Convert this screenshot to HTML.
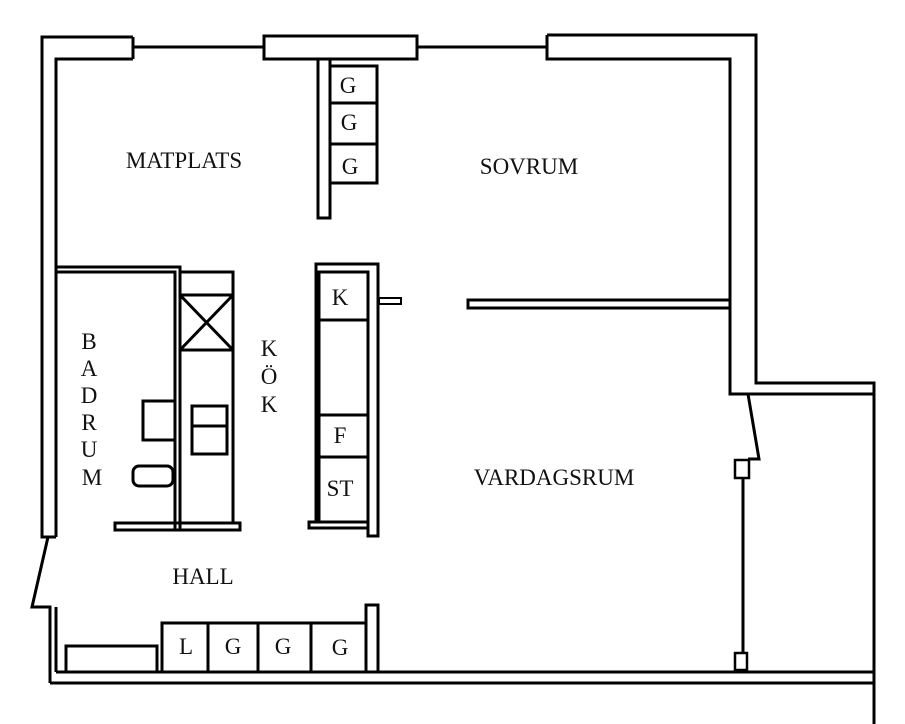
<!DOCTYPE html>
<html><head><meta charset="utf-8"><style>
html,body{margin:0;padding:0;background:#fff;}
svg{display:block;}
text{font-family:"Liberation Serif",serif;font-size:21px;fill:#111;}
text.big{font-size:23px;}
</style></head><body>
<svg width="905" height="724" viewBox="0 0 905 724" xmlns="http://www.w3.org/2000/svg">
<g fill="none" stroke="#000" stroke-width="3" stroke-linejoin="miter">
<polyline points="133,59 56,59 56,537"/>
<polyline points="133,37 42,37 42,537 56,537"/>
<line x1="133" y1="37" x2="133" y2="59"/>
<line x1="133" y1="47" x2="264" y2="47"/>
<rect x="264" y="36" width="153" height="23"/>
<line x1="417" y1="47" x2="547" y2="47"/>
<polyline points="547,35 756,35 756,383 874,383 874,724"/>
<polyline points="547,35 547,59 730,59 730,394 874,394"/>
<polyline points="748,394 759,459 748,459"/>
<rect x="735" y="460" width="14" height="18" stroke-width="2.5"/>
<line x1="743" y1="478" x2="743" y2="653"/>
<rect x="735" y="653" width="12" height="17" stroke-width="2.5"/>
<line x1="56" y1="672" x2="874" y2="672"/>
<line x1="50" y1="683" x2="874" y2="683"/>
<polyline points="48,537 32,607 50,607 50,683"/>
<line x1="56" y1="607" x2="56" y2="672"/>
<rect x="468" y="300" width="262" height="8"/>
<rect x="318" y="59" width="12" height="159"/>
<rect x="330" y="66" width="47" height="117"/>
<line x1="330" y1="103" x2="377" y2="103"/>
<line x1="330" y1="144" x2="377" y2="144"/>
<polyline points="56,267 180,267 180,530"/>
<polyline points="56,272 175,272 175,530"/>
<rect x="180" y="272" width="53" height="251"/>
<rect x="180" y="295" width="53" height="55"/>
<line x1="180" y1="295" x2="233" y2="350"/>
<line x1="233" y1="295" x2="180" y2="350"/>
<rect x="143" y="401" width="32" height="39"/>
<rect x="133" y="466" width="40" height="20" rx="6"/>
<rect x="192" y="406" width="35" height="48"/>
<line x1="192" y1="426" x2="227" y2="426"/>
<rect x="115" y="523" width="125" height="7"/>
<polyline points="316,522 316,264 378,264 378,536 368,536 368,272 319,272 319,522"/>
<line x1="319" y1="320" x2="368" y2="320"/>
<line x1="319" y1="415" x2="368" y2="415"/>
<line x1="319" y1="457" x2="368" y2="457"/>
<rect x="309" y="522" width="59" height="6"/>
<rect x="379" y="298" width="22" height="6" stroke-width="2"/>
<rect x="162" y="623" width="204" height="49"/>
<line x1="208" y1="623" x2="208" y2="672"/>
<line x1="258" y1="623" x2="258" y2="672"/>
<line x1="311" y1="623" x2="311" y2="672"/>
<rect x="366" y="605" width="12" height="67"/>
<rect x="66" y="646" width="91" height="26"/>
</g>
<g text-anchor="middle">
<text class="big" x="348" y="93">G</text>
<text class="big" x="349" y="130">G</text>
<text class="big" x="350" y="174">G</text>
<text class="big" x="184" y="168">MATPLATS</text>
<text class="big" x="529" y="174">SOVRUM</text>
<text class="big" x="554" y="485">VARDAGSRUM</text>
<text class="big" x="203" y="584">HALL</text>
<text class="big" x="340" y="305">K</text>
<text class="big" x="340" y="443">F</text>
<text class="big" x="340" y="496">ST</text>
<text class="big" x="186" y="654">L</text>
<text class="big" x="233" y="654">G</text>
<text class="big" x="283" y="654">G</text>
<text class="big" x="340" y="655">G</text>
<text class="big" x="89" y="349">B</text>
<text class="big" x="89" y="376">A</text>
<text class="big" x="89" y="403">D</text>
<text class="big" x="89" y="430">R</text>
<text class="big" x="89" y="457">U</text>
<text class="big" x="92" y="485">M</text>
<text class="big" x="269" y="356">K</text>
<text class="big" x="269" y="384">Ö</text>
<text class="big" x="269" y="412">K</text>
</g>
</svg>
</body></html>
